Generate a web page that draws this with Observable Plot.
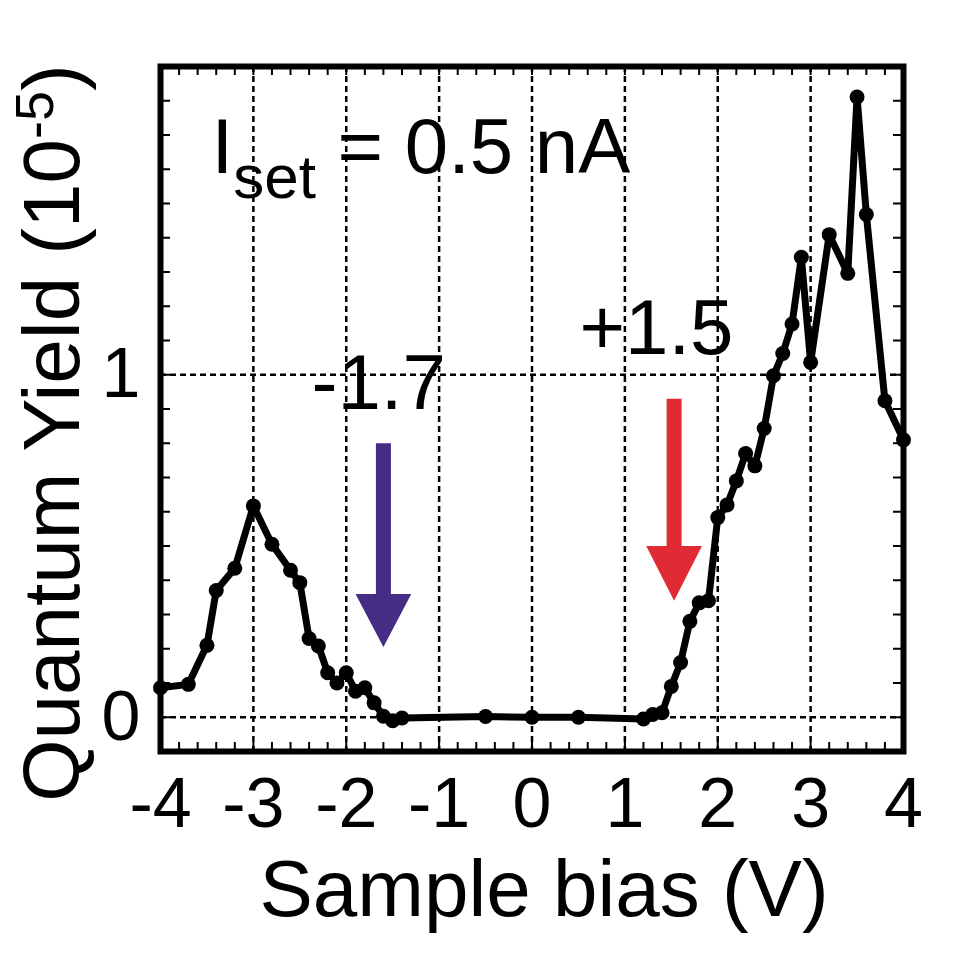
<!DOCTYPE html>
<html>
<head>
<meta charset="utf-8">
<script src="https://cdn.jsdelivr.net/npm/d3@7"></script>
<script src="https://cdn.jsdelivr.net/npm/@observablehq/plot@0.6"></script>
<style>
  html, body { margin: 0; padding: 0; background: #fff; }
  svg { display: block; }
</style>
</head>
<body>
<script>
// ---- data ----
const bias = [-4.0, -3.7, -3.5, -3.4, -3.2, -3.0, -2.8, -2.6, -2.5, -2.4, -2.3, -2.2, -2.1, -2.0, -1.9, -1.8, -1.7, -1.6, -1.5, -1.4,
  -0.5, 0.0, 0.5,
  1.2, 1.3, 1.4, 1.5, 1.6, 1.7, 1.8, 1.9, 2.0, 2.1, 2.2, 2.3, 2.4, 2.5, 2.6, 2.7, 2.8, 2.9, 3.0, 3.2, 3.4, 3.5, 3.6, 3.8, 4.0];
const yieldQ = [0.086, 0.096, 0.21, 0.37, 0.435, 0.617, 0.505, 0.429, 0.393, 0.23, 0.208, 0.13, 0.10, 0.13, 0.076, 0.086, 0.042, 0.003, -0.01, -0.002,
  0.002, 0.0, 0.0,
  -0.005, 0.008, 0.013, 0.09, 0.16, 0.28, 0.334, 0.34, 0.583, 0.62, 0.69, 0.77, 0.734, 0.843, 0.997, 1.062, 1.148, 1.343, 1.036, 1.409, 1.296, 1.811, 1.468, 0.924, 0.81];

const xTicks = [-4, -3, -2, -1, 0, 1, 2, 3, 4];
const yTicks = [0, 1];
const xGrid = [-3, -2, -1, 0, 1, 2, 3];
const yGrid = [0, 1];
const xMinor = d3.range(-40, 41, 2).map(d => d / 10);
const yMinor = d3.range(-1, 19, 1).map(d => d / 10);

// arrows (annotation): position, shaft top, head base, tip, colour
const arrowX = [-1.60, 1.53];
const arrowTop = [0.80, 0.93];
const arrowBase = [0.36, 0.50];
const arrowTip = [0.205, 0.34];
const arrowColor = ["#452c85", "#e02b35"];
const arrowHalf = 0.30;

// text notes
const noteText = ["-1.7", "+1.5"];
const noteX = [-2.374, 0.511];
const noteY = [0.901, 1.062];
const isetX = [-3.451];
const isetY = [1.590];
const ISET = "Iset = 0.5 nA";
const YLABEL = "Quantum Yield (10-5)";
const XLABEL = "Sample bias (V)";

// ---- derived tables ----
const pts = bias.map((b, i) => ({x: b, y: yieldQ[i]}));
const shafts = arrowX.map((x, i) => ({x, y1: arrowTop[i], y2: arrowBase[i], c: arrowColor[i]}));
const heads = arrowX.flatMap((x, i) => [
  {x: x - arrowHalf, y: arrowBase[i], k: i, c: arrowColor[i]},
  {x: x + arrowHalf, y: arrowBase[i], k: i, c: arrowColor[i]},
  {x: x, y: arrowTip[i], k: i, c: arrowColor[i]}
]);
const notes = noteText.map((t, i) => ({t, x: noteX[i], y: noteY[i]}));

const FONT = "'Liberation Sans', Arial, Helvetica, sans-serif";
const W = 960, H = 960, ML = 160, MR = 57, MT = 66, MB = 209;
const FH = H - MT - MB;

const plot = Plot.plot({
  width: W, height: H,
  marginLeft: ML, marginRight: MR, marginTop: MT, marginBottom: MB,
  style: {fontFamily: FONT, background: "#fff", color: "#000"},
  x: {domain: [-4, 4]},
  y: {domain: [-0.1, 1.9]},
  marks: [
    Plot.gridX(xGrid, {stroke: "#000", strokeOpacity: 1, strokeWidth: 2.5, strokeDasharray: "6,4"}),
    Plot.gridY(yGrid, {stroke: "#000", strokeOpacity: 1, strokeWidth: 2.5, strokeDasharray: "6,4"}),
    // minor ticks (inward, all four sides)
    Plot.tickX(xMinor, {x: d => d, stroke: "#000", strokeWidth: 2, insetTop: FH - 9}),
    Plot.tickX(xMinor, {x: d => d, stroke: "#000", strokeWidth: 2, insetBottom: FH - 9}),
    Plot.tickY(yMinor, {y: d => d, stroke: "#000", strokeWidth: 2, insetRight: (W - ML - MR) - 10}),
    Plot.tickY(yMinor, {y: d => d, stroke: "#000", strokeWidth: 2, insetLeft: (W - ML - MR) - 10}),
    // arrows
    Plot.link(shafts, {x1: "x", x2: "x", y1: "y1", y2: "y2", stroke: "c", strokeWidth: 15, strokeLinecap: "butt"}),
    Plot.line(heads, {x: "x", y: "y", z: "k", fill: d => d.c, stroke: null}),
    // data
    Plot.line(pts, {x: "x", y: "y", stroke: "#000", strokeWidth: 7, strokeLinejoin: "round"}),
    Plot.dot(pts, {x: "x", y: "y", r: 7.5, fill: "#000", stroke: null}),
    Plot.frame({stroke: "#000", strokeWidth: 6}),
    // axes
    Plot.axisX(xTicks, {tickSize: 0, tickPadding: 26, fontSize: 70, tickFormat: d => String(d), label: null}),
    Plot.axisY(yTicks, {tickSize: 0, tickPadding: 20, fontSize: 70, dy: 0, tickFormat: d => String(d), label: null}),
    // annotations
    Plot.text(notes, {x: "x", y: "y", text: "t", textAnchor: "start", lineAnchor: "bottom", fontSize: 78, fill: "#000"}),
    Plot.text(isetX, {x: d => d, y: (d, i) => isetY[i], text: () => ISET, textAnchor: "start", lineAnchor: "bottom", fontSize: 78, fill: "#000"}),
    Plot.text([XLABEL], {frameAnchor: "bottom", dx: 12, dy: 164, lineAnchor: "bottom", fontSize: 80, fill: "#000"}),
    Plot.text([YLABEL], {frameAnchor: "left", dx: -82, dy: 24, rotate: -90, lineAnchor: "bottom", textAnchor: "middle", fontSize: 80, fill: "#000"})
  ]
});

function richify(content, parts) {
  for (const t of plot.querySelectorAll("text")) {
    if (t.textContent !== content) continue;
    while (t.firstChild) t.removeChild(t.firstChild);
    for (const p of parts) {
      const ts = document.createElementNS("http://www.w3.org/2000/svg", "tspan");
      ts.textContent = p.text;
      if (p.size) ts.setAttribute("font-size", p.size);
      if (p.dy) ts.setAttribute("dy", p.dy);
      t.appendChild(ts);
    }
  }
}
richify(ISET, [{text: "I", size: 78}, {text: "set", size: 62, dy: 25}, {text: " = 0.5 nA", size: 78, dy: -25}]);
richify(YLABEL, [{text: "Quantum Yield (10", size: 80}, {text: "-5", size: 54, dy: -26}, {text: ")", size: 80, dy: 26}]);

document.body.appendChild(plot);
</script>
</body>
</html>
